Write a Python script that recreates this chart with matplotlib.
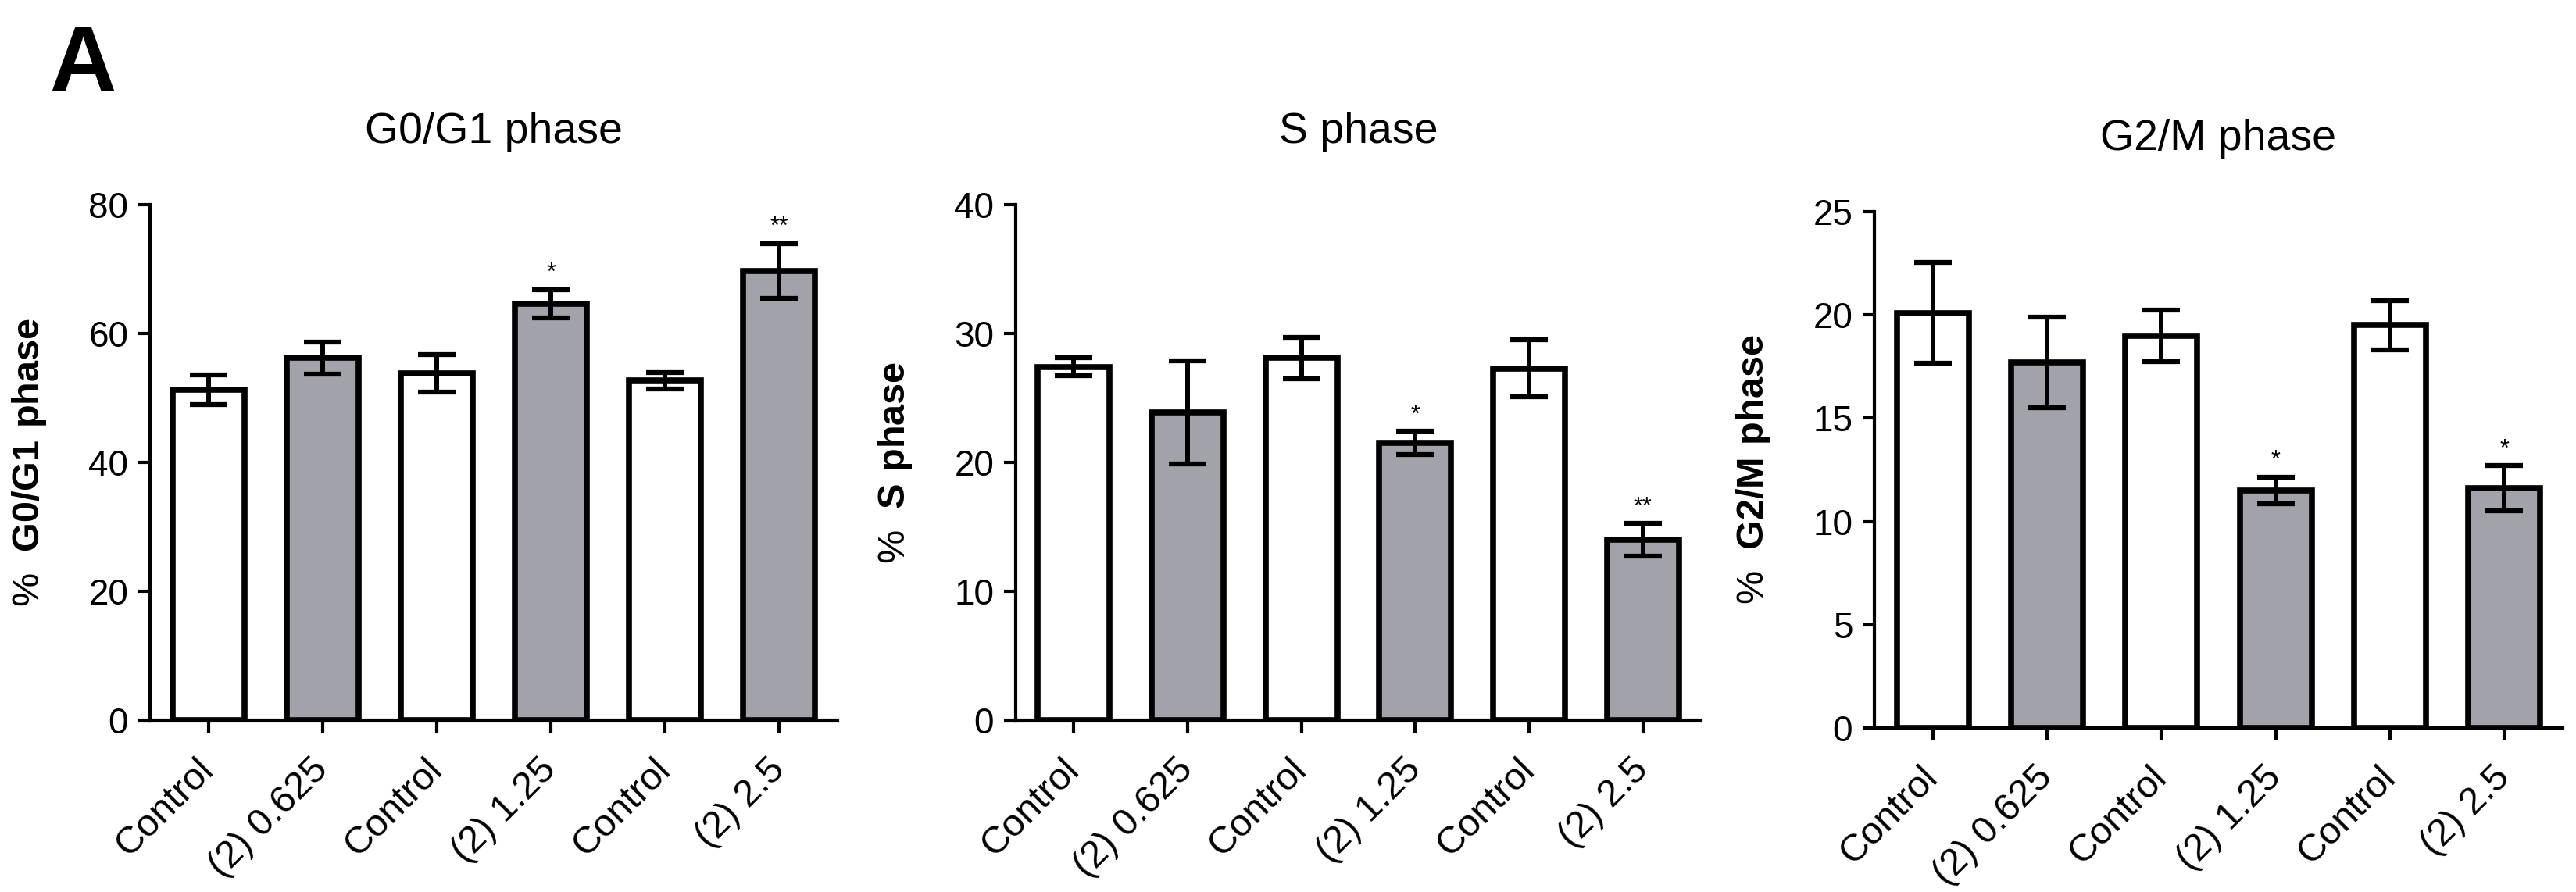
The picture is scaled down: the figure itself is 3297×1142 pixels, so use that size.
import matplotlib
matplotlib.use("Agg")
import matplotlib.pyplot as plt
from matplotlib import font_manager
import numpy as np

# ---- data ----
categories = ["Control", "(2) 0.625", "Control", "(2) 1.25", "Control", "(2) 2.5"]
g1_values = [51.3, 56.2, 53.8, 64.6, 52.7, 69.7]
g1_errors = [2.3, 2.5, 2.9, 2.2, 1.3, 4.3]
s_values = [27.4, 23.9, 28.1, 21.5, 27.3, 14.0]
s_errors = [0.7, 4.0, 1.6, 0.9, 2.2, 1.25]
g2_values = [20.1, 17.7, 19.0, 11.5, 19.5, 11.6]
g2_errors = [2.45, 2.2, 1.25, 0.65, 1.2, 1.1]
g1_sig = ["", "", "", "*", "", "**"]
s_sig = ["", "", "", "*", "", "**"]
g2_sig = ["", "", "", "*", "", "*"]
titles = ["G0/G1 phase", "S phase", "G2/M phase"]
ylabels = ["G0/G1 phase", "S phase", "G2/M phase"]
g1_ticks = [0, 20, 40, 60, 80]
s_ticks = [0, 10, 20, 30, 40]
g2_ticks = [0, 5, 10, 15, 20, 25]
is_treated = [False, True, False, True, False, True]

names = {f.name for f in font_manager.fontManager.ttflist}
narrow = "Liberation Sans Narrow" if "Liberation Sans Narrow" in names else "Liberation Sans"

plt.rcParams["font.family"] = ["Liberation Sans", "DejaVu Sans"]
plt.rcParams["mathtext.fontset"] = "custom"
plt.rcParams["mathtext.rm"] = "Liberation Sans"
plt.rcParams["mathtext.bf"] = "Liberation Sans:bold"

W, H = 3297, 1142
fig = plt.figure(figsize=(W / 100, H / 100), dpi=100)

# axes rectangles in pixels: left, right, top(y of max), bottom(y of 0)
rects = [(192, 1072, 262, 922), (1300, 2177, 262, 922), (2399, 3280, 271, 932)]
values = [g1_values, s_values, g2_values]
errors = [g1_errors, s_errors, g2_errors]
sigs = [g1_sig, s_sig, g2_sig]
ticks = [g1_ticks, s_ticks, g2_ticks]

gray = "#a2a2aa"
for i in range(3):
    l, r, t, b = rects[i]
    ax = fig.add_axes([l / W, 1 - b / H, (r - l) / W, (b - t) / H])
    x = np.arange(len(categories))
    colors = [gray if tr else "white" for tr in is_treated]
    ax.bar(x, values[i], width=0.63, color=colors, edgecolor="black",
           linewidth=5.5, zorder=2)
    ax.errorbar(x, values[i], yerr=errors[i], fmt="none", ecolor="black",
                elinewidth=4.3, capsize=17, capthick=4.5, zorder=3)
    for xi, v, e, s in zip(x, values[i], errors[i], sigs[i]):
        if s:
            ax.annotate(s, (xi, v + e), xytext=(0, 9), textcoords="offset points",
                        ha="center", va="baseline", fontsize=22)
    ax.set_xlim(-0.51, 5.51)
    ax.set_ylim(0, ticks[i][-1])
    ax.set_yticks(ticks[i])
    ax.set_xticks(x)
    ax.set_xticklabels(categories, rotation=45, ha="right", va="center",
                       rotation_mode="anchor", family=[narrow, "Liberation Sans"],
                       fontsize=35)
    for lab in ax.get_yticklabels():
        lab.set_family([narrow, "Liberation Sans"])
        lab.set_fontsize(33)
    ax.tick_params(axis="x", length=11.5, width=3, pad=29)
    ax.tick_params(axis="y", length=11, width=3, pad=9)
    for sp in ["top", "right"]:
        ax.spines[sp].set_visible(False)
    for sp in ["left", "bottom"]:
        ax.spines[sp].set_linewidth(3)
    ax.set_title(titles[i], fontsize=40, pad=57)
    ax.set_ylabel("%  $\\mathbf{" + ylabels[i].replace(" ", "\\ ") + "}$", fontsize=35)
    ax.yaxis.set_label_coords(-130 / (r - l), 0.5)

fig.text(63 / W, 1 - 30 / H, "A", ha="left", va="top", fontsize=85, fontweight="bold")

fig.savefig("out.png", dpi=100, facecolor="white")
